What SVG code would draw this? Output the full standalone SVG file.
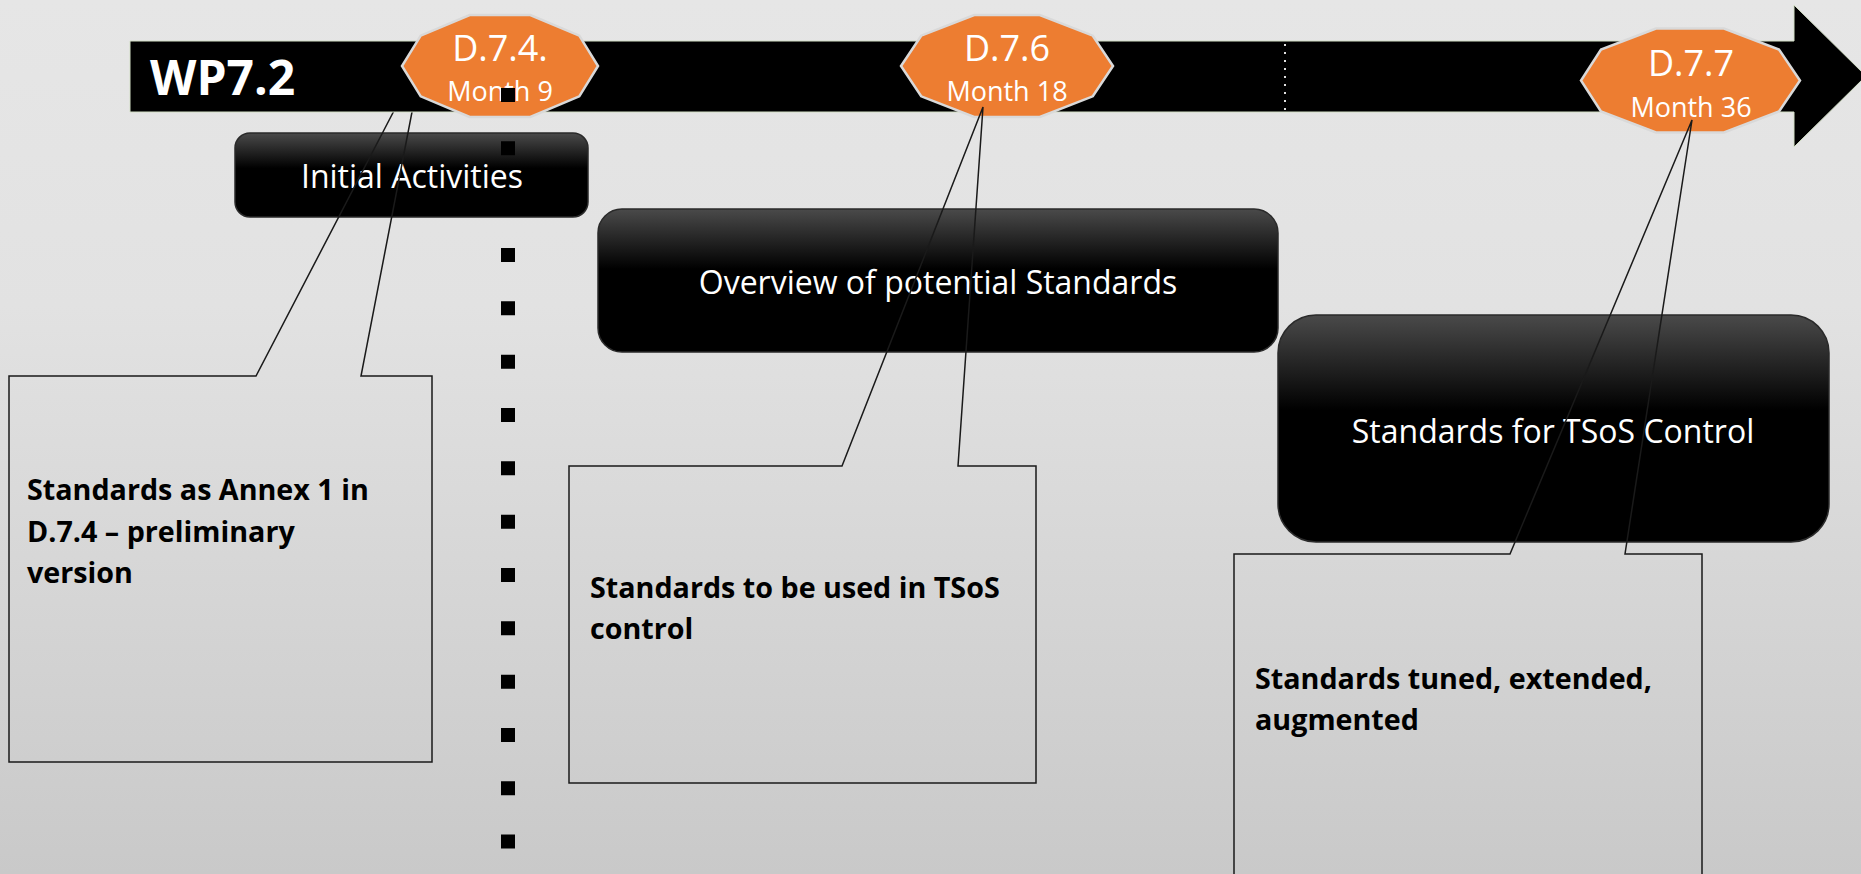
<svg xmlns="http://www.w3.org/2000/svg" width="1861" height="874" viewBox="0 0 1861 874">
  <defs>
    <linearGradient id="bg" x1="0" y1="0" x2="0" y2="1">
      <stop offset="0" stop-color="#e6e6e6"/>
      <stop offset="0.35" stop-color="#e2e2e2"/>
      <stop offset="1" stop-color="#c9c9c9"/>
    </linearGradient>
    <linearGradient id="boxg" x1="0" y1="0" x2="0" y2="1">
      <stop offset="0" stop-color="#4a4a4a"/>
      <stop offset="0.42" stop-color="#000000"/>
      <stop offset="1" stop-color="#000000"/>
    </linearGradient>
    <style>
      .box { fill: url(#boxg); stroke: #2a2a2a; stroke-width: 1.5; }
      .boxlabel { font-family: "Open Sans", "Liberation Sans", sans-serif; font-size: 32px; fill: #ffffff; text-anchor: middle; }
      .oct { fill: #ed7d31; stroke: #d9d9d9; stroke-width: 2.5; }
      .dnum { font-family: "Open Sans", "Liberation Sans", sans-serif; font-size: 36px; fill: #ffffff; text-anchor: middle; }
      .month { font-family: "Open Sans", "Liberation Sans", sans-serif; font-size: 27px; fill: #ffffff; text-anchor: middle; }
      .callout { fill: none; stroke: #1a1a1a; stroke-width: 1.5; stroke-linejoin: miter; }
      .ctext { font-family: "Open Sans", "Liberation Sans", sans-serif; font-size: 28.7px; font-weight: bold; fill: #000000; }
    </style>
  </defs>

  <rect x="0" y="0" width="1861" height="874" fill="url(#bg)"/>

  <!-- activity boxes -->
  <g id="box-initial">
    <rect class="box" x="235" y="133" width="353" height="84" rx="15" ry="15"/>
    <text class="boxlabel" x="412" y="188">Initial Activities</text>
  </g>
  <g id="box-overview">
    <rect class="box" x="598" y="209" width="680" height="143" rx="24" ry="24"/>
    <text class="boxlabel" x="938" y="294">Overview of potential Standards</text>
  </g>
  <g id="box-tsos">
    <rect class="box" x="1278" y="315" width="551" height="227" rx="38" ry="38"/>
    <text class="boxlabel" x="1553" y="443">Standards for TSoS Control</text>
  </g>

  <!-- callout 1 (sits beneath the timeline bar) -->
  <g id="callout-1">
    <path class="callout" d="M 9,376 H 256 L 423,55 L 361,376 H 432 V 762 H 9 Z"/>
    <text class="ctext" x="27" y="500">Standards as Annex 1 in</text>
    <text class="ctext" x="27" y="542">D.7.4 – preliminary</text>
    <text class="ctext" x="27" y="583">version</text>
  </g>

  <!-- timeline -->
  <g id="timeline">
    <path d="M 130,41 H 1794 V 5 L 1866,76 L 1794,147 V 112 H 130 Z" fill="#000000" stroke="#d3dfc6" stroke-width="1"/>
    <text x="150" y="95" font-family="Open Sans, Liberation Sans, sans-serif" font-size="48" font-weight="bold" fill="#ffffff">WP7.2</text>
    <line x1="1285" y1="44" x2="1285" y2="110" stroke="#e0e0e0" stroke-width="2" stroke-dasharray="2 6"/>
  </g>

  <!-- milestones -->
  <g id="m-d74">
    <polygon class="oct" points="598,66 579.3,96.3 530.3,117 469.7,117 420.7,96.3 402,66 420.7,35.7 469.7,15 530.3,15 579.3,35.7"/>
    <text class="dnum" x="500" y="61">D.7.4.</text>
    <text class="month" x="500" y="101">Month 9</text>
  </g>
  <g id="m-d76">
    <polygon class="oct" points="1113,66 1092.8,96.3 1039.8,117 974.2,117 921.2,96.3 901,66 921.2,35.7 974.2,15 1039.8,15 1092.8,35.7"/>
    <text class="dnum" x="1007" y="61">D.7.6</text>
    <text class="month" x="1007" y="101">Month 18</text>
  </g>
  <g id="m-d77">
    <polygon class="oct" points="1800,80.5 1779,111.5 1724,132.5 1656,132.5 1601,111.5 1581,80.5 1601,49.5 1656,28.5 1724,28.5 1779,49.5"/>
    <text class="dnum" x="1691" y="76" font-size="38">D.7.7</text>
    <text class="month" x="1691" y="117" font-size="28">Month 36</text>
  </g>

  <!-- callouts over milestones -->
  <g id="callout-2">
    <path class="callout" d="M 569,466 H 842 L 983,107 L 958,466 H 1036 V 783 H 569 Z"/>
    <text class="ctext" x="590" y="598">Standards to be used in TSoS</text>
    <text class="ctext" x="590" y="639">control</text>
  </g>
  <g id="callout-3">
    <path class="callout" d="M 1234,554 H 1510 L 1692,120 L 1625,554 H 1702 V 890 H 1234 Z"/>
    <text class="ctext" x="1255" y="689">Standards tuned, extended,</text>
    <text class="ctext" x="1255" y="730">augmented</text>
  </g>

  <!-- vertical square-dotted separator -->
  <g id="connectors">
    <line x1="508" y1="88" x2="508" y2="900" stroke="#000000" stroke-width="14" stroke-dasharray="14 39.33"/>
  </g>
</svg>
